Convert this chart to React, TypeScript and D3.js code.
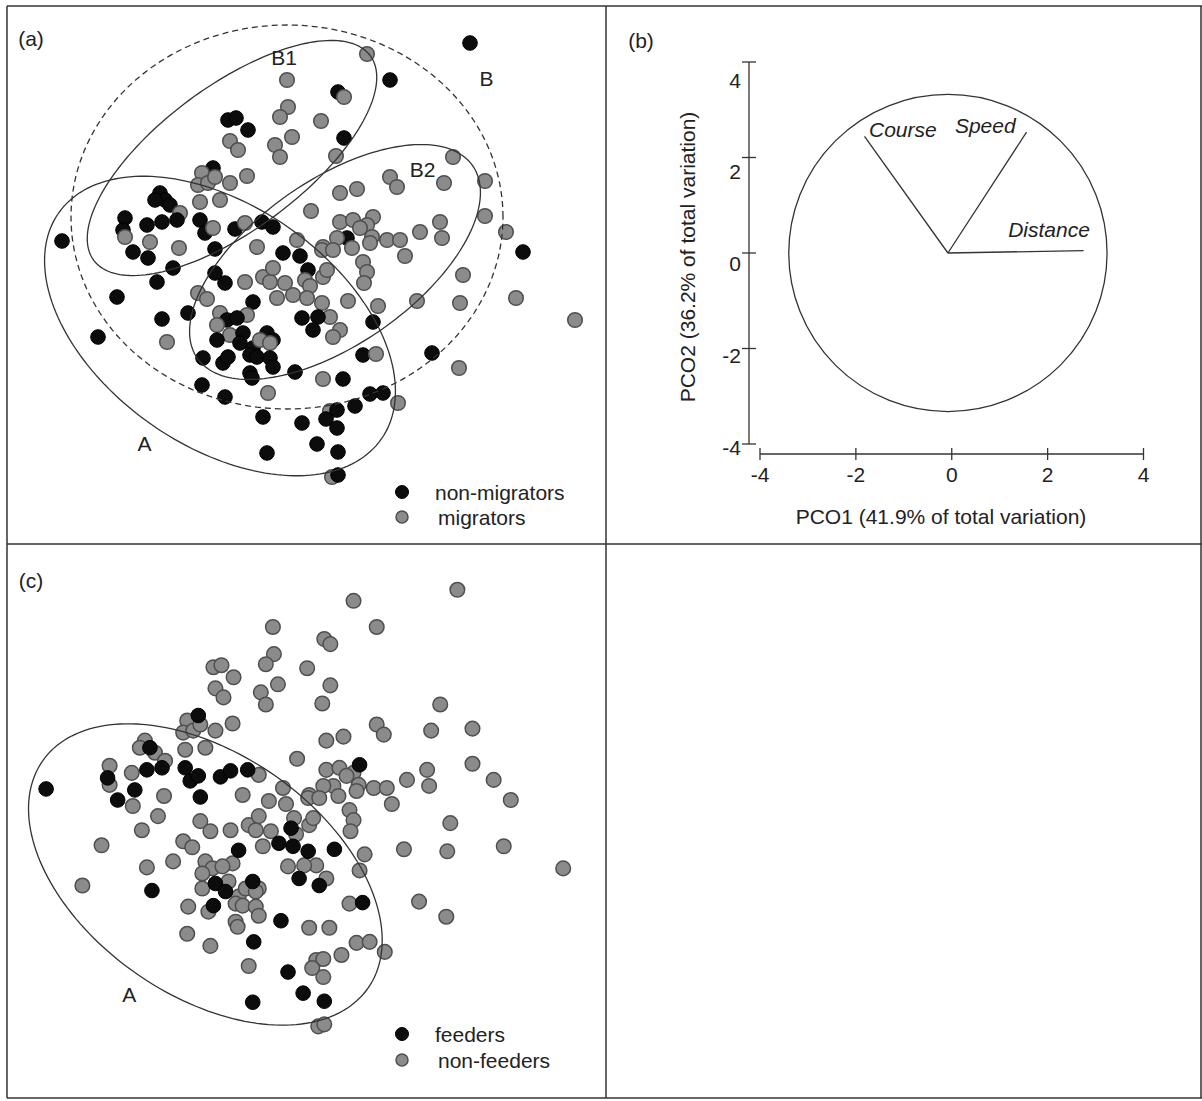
import React from "react";
import * as d3 from "d3";

// Individual birds: [PCO1 score, PCO2 score, migrator (1) / non-migrator (0), feeder (1) / non-feeder (0)]
const birds: [number, number, number, number][] = [
  [3.40,4.14,0,0],[1.34,3.92,1,0],[1.80,3.40,0,0],[0.76,3.16,0,0],[0.88,3.06,1,0],
  [-0.26,3.40,1,0],[-0.24,2.86,1,0],[-0.40,2.66,1,0],[0.42,2.58,1,0],[-0.16,2.26,1,0],
  [-0.50,2.10,1,0],[-0.40,1.86,1,0],[0.88,2.24,0,0],[0.72,1.88,1,0],[-1.44,2.60,0,0],
  [-1.28,2.64,0,0],[-1.04,2.40,0,0],[-1.40,2.18,1,0],[-1.24,2.00,1,0],[-1.06,1.48,1,0],
  [-1.40,1.34,1,0],[-1.74,1.64,0,1],[-1.96,1.54,1,0],[-2.04,1.30,1,0],[-1.84,1.34,1,0],
  [-1.70,1.46,1,0],[-1.60,1.00,1,0],[-2.00,0.96,1,0],[-2.80,1.14,0,0],[-2.70,1.00,0,1],
  [-2.90,1.00,0,0],[-2.60,0.90,0,0],[-2.40,0.74,1,0],[-2.46,0.60,0,1],[-2.76,0.56,0,1],
  [-3.06,0.50,0,0],[-3.50,0.64,0,0],[-3.54,0.40,0,1],[-3.50,0.26,1,0],[-2.00,0.60,0,1],
  [-1.90,0.34,0,1],[-1.74,0.44,1,1],[-1.30,0.42,0,1],[-1.10,0.54,1,1],[-0.76,0.56,0,1],
  [-0.54,0.46,0,0],[-0.86,0.06,1,0],[-3.00,0.16,1,1],[-4.76,0.18,0,1],[-0.06,0.20,1,0],
  [-1.70,0.02,0,1],[-3.34,-0.04,0,1],[-2.42,0.04,1,0],[-0.34,-0.06,0,0],
  [3.06,1.86,1,0],[1.80,1.46,1,0],[1.94,1.26,1,0],[2.88,1.34,1,0],[3.70,1.38,1,0],
  [0.80,1.14,1,0],[1.14,1.22,1,0],[0.22,0.78,1,0],[3.70,0.68,1,0],[2.80,0.56,1,0],
  [2.84,0.24,1,0],[2.40,0.36,1,0],[4.12,0.36,1,0],[0.80,0.56,1,0],[1.06,0.60,1,0],
  [1.46,0.66,1,1],[1.34,0.50,1,0],[1.20,0.44,1,0],[0.94,0.24,0,0],[0.74,0.24,1,0],
  [1.44,0.26,1,0],[1.74,0.20,1,0],[2.00,0.20,1,0],[0.46,0.06,1,0],[4.46,-0.04,0,0],
  [2.10,-0.12,1,0],[3.26,-0.50,1,0],[3.20,-1.06,1,0],[4.32,-0.96,1,0],[5.50,-1.40,1,0],
  [2.64,-2.06,0,0],[3.18,-2.36,1,0],[2.34,-1.02,1,0],[1.56,-1.12,1,0],[0.96,-1.02,1,1],
  [1.46,-1.44,0,0],[1.26,-0.24,1,0],[1.34,-0.44,1,0],[1.28,-0.66,1,0],[0.44,0.00,1,0],
  [0.66,0.00,1,0],[1.04,0.04,1,0],[1.40,0.14,1,0],[0.00,-0.12,0,0],[0.16,-0.40,0,0],
  [0.10,-0.60,1,1],[0.20,-0.72,1,0],[0.46,-0.54,1,0],[0.54,-0.40,1,0],[-0.14,-0.90,1,1],
  [0.14,-0.96,1,1],[0.44,-1.06,1,1],[0.60,-1.34,1,0],[0.80,-1.60,1,0],[0.66,-1.74,1,1],
  [0.04,-1.36,0,0],[0.26,-1.60,0,1],[0.36,-1.34,0,0],[1.26,-2.10,0,0],[1.52,-2.08,1,1],
  [-0.10,-2.44,0,1],[0.46,-2.58,1,0],[0.86,-2.58,0,0],[1.40,-2.88,0,0],[1.66,-2.86,0,0],
  [1.96,-3.06,1,0],[1.10,-3.12,0,0],[0.60,-3.22,1,0],[0.74,-3.20,0,0],[0.52,-3.38,0,0],
  [0.74,-3.56,0,0],[0.04,-3.46,0,1],[0.34,-3.88,0,1],[0.76,-4.04,0,1],[0.64,-4.54,1,0],
  [0.76,-4.50,0,0],
  [-3.04,-0.16,0,0],[-2.54,-0.36,0,0],[-2.86,-0.64,0,0],[-3.66,-0.94,0,0],[-1.70,-0.46,0,0],
  [-1.50,-0.66,0,0],[-1.10,-0.64,1,0],[-0.74,-0.54,1,0],[-0.60,-0.64,1,0],[-0.54,-0.36,1,0],
  [-0.30,-0.66,1,0],[-2.04,-0.86,1,0],[-1.86,-0.98,1,0],[-0.94,-1.04,0,1],[-0.46,-0.96,1,0],
  [-2.24,-1.26,0,0],[-2.76,-1.38,0,0],[-4.04,-1.74,0,0],[-2.66,-1.84,1,1],[-1.60,-1.26,1,0],
  [-1.06,-1.30,1,0],[-1.46,-1.40,0,0],[-1.26,-1.36,0,0],[-1.66,-1.50,1,0],[-1.40,-1.70,1,1],
  [-1.66,-1.80,0,0],[-1.14,-1.66,0,0],[-1.20,-1.86,0,1],[-0.94,-1.96,0,0],[-1.00,-2.10,0,0],
  [-0.66,-1.66,0,1],[-0.54,-1.80,0,0],[-0.80,-1.80,1,0],[-0.60,-1.86,1,0],[-1.94,-2.16,0,0],
  [-1.54,-2.26,0,0],[-1.44,-2.14,0,1],[-0.86,-2.14,0,0],[-0.60,-2.16,0,0],[-0.54,-2.34,0,0],
  [-1.00,-2.46,0,0],[-0.96,-2.56,0,0],[-1.96,-2.70,0,0],[-1.50,-2.94,0,0],[-0.64,-2.86,1,1],
  [-0.74,-3.34,0,0],[-0.66,-4.06,0,1],
];

// Cluster envelopes in PCO space (semi-axes a, b; rotation in degrees)
const clusterNames = ["A", "B1", "B2", "B"];
const clusterCentres: [number, number][] = [[-1.6, -1.52], [-1.36, 1.84], [0.7, -0.24], [-0.26, 0.66]];
const clusterAxes: [number, number][] = [[3.94, 2.4], [3.44, 1.44], [3.36, 1.64], [4.32, 3.84]];
const clusterAngles = [-35, 36.5, 35, 0];
const clusterDashed = [false, false, false, true];

// Vector overlay for panel (b)
const vectorNames = ["Course", "Speed", "Distance"];
const vectorPco1 = [-1.82, 1.56, 2.75];
const vectorPco2 = [2.44, 2.53, 0.05];
const vectorOrigin: [number, number] = [-0.08, 0];
const circleRadius = 3.32;
const axisTicks = [-4, -2, 0, 2, 4];

const FONT = "'Liberation Sans', Arial, Helvetica, sans-serif";
const TXT = "#222";
const LINE = "#333";

type Scale = d3.ScaleLinear<number, number>;

function envelopePath(i: number, xs: Scale, ys: Scale) {
  const [cx, cy] = clusterCentres[i];
  const [a, b] = clusterAxes[i];
  const th = (clusterAngles[i] * Math.PI) / 180;
  const pts = d3.range(0, 360, 2).map((deg) => {
    const t = (deg * Math.PI) / 180;
    const ex = a * Math.cos(t);
    const ey = b * Math.sin(t);
    return [
      xs(cx + ex * Math.cos(th) - ey * Math.sin(th)),
      ys(cy + ex * Math.sin(th) + ey * Math.cos(th)),
    ] as [number, number];
  });
  return d3.line().curve(d3.curveLinearClosed)(pts) as string;
}

function Dot({ x, y, dark, r = 7.3 }: { x: number; y: number; dark: boolean; r?: number }) {
  return dark ? (
    <circle cx={x} cy={y} r={r} fill="#0c0c0c" stroke="#000" strokeWidth={1} />
  ) : (
    <circle cx={x} cy={y} r={r} fill="#8b8b8b" stroke="#4f4f4f" strokeWidth={1.5} />
  );
}

function Label({ x, y, children, anchor = "middle", italic = false, size = 21 }: any) {
  return (
    <text x={x} y={y} textAnchor={anchor} fontFamily={FONT} fontSize={size} fill={TXT}
      fontStyle={italic ? "italic" : "normal"} dominantBaseline="central">
      {children}
    </text>
  );
}

export default function App() {
  // Panel (a)
  const xA = d3.scaleLinear().domain([-6, 6]).range([0, 600]);
  const yA = d3.scaleLinear().domain([-6, 6]).range([550, -50]);
  // Panel (c)
  const xC = d3.scaleLinear().domain([-6, 6]).range([286 - 302.4, 286 + 302.4]);
  const yC = d3.scaleLinear().domain([-6, 6]).range([798 + 301.8, 798 - 301.8]);
  // Panel (b)
  const xB = d3.scaleLinear().domain([-4, 4]).range([760, 1143.5]);
  const yB = d3.scaleLinear().domain([-4, 4]).range([444, 62]);
  const yBLabel = d3.scaleLinear().domain([-4, 4]).range([447, 80]);

  const axisY = 454;
  const axisX = 749;

  const nonFeedersFirst = [...birds].sort((p, q) => p[3] - q[3]);

  return (
    <svg width={1202} height={1101} style={{ position: "absolute", left: 0, top: 0, background: "#fff" }}>
      <rect x={0} y={0} width={1202} height={1101} fill="#fff" />
      {/* frame */}
      <g stroke={LINE} strokeWidth={1.5} fill="none">
        <line x1={7} y1={6} x2={1202} y2={6} />
        <line x1={7} y1={6} x2={7} y2={1098} />
        <line x1={606} y1={6} x2={606} y2={1098} />
        <line x1={7} y1={544} x2={1202} y2={544} />
        <line x1={7} y1={1098} x2={1202} y2={1098} />
        <line x1={1201} y1={6} x2={1201} y2={1098} />
      </g>

      {/* (a) */}
      <Label x={31} y={38}>(a)</Label>
      <g>
        {birds.map((b, i) => (
          <Dot key={i} x={xA(b[0])} y={yA(b[1])} dark={b[2] === 0} />
        ))}
      </g>
      <g fill="none" stroke={LINE} strokeWidth={1.3}>
        {clusterNames.map((n, i) => (
          <path key={n} d={envelopePath(i, xA, yA)} strokeDasharray={clusterDashed[i] ? "6 4" : undefined} />
        ))}
      </g>
      <Label x={xA(-0.32)} y={yA(3.85)}>B1</Label>
      <Label x={xA(3.73)} y={yA(3.43)}>B</Label>
      <Label x={xA(2.45)} y={yA(1.62)}>B2</Label>
      <Label x={xA(-3.11)} y={yA(-3.87)}>A</Label>
      <Dot x={402} y={492} dark r={6.5} />
      <Dot x={402} y={517} dark={false} r={6} />
      <Label x={435} y={492} anchor="start">non-migrators</Label>
      <Label x={438} y={517} anchor="start">migrators</Label>

      {/* (b) */}
      <Label x={641} y={40}>(b)</Label>
      <g stroke={LINE} strokeWidth={1.3} fill="none">
        <line x1={axisX} y1={yB(4)} x2={axisX} y2={yB(-4)} />
        {axisTicks.map((t) => (
          <line key={"yt" + t} x1={axisX - 7} x2={axisX + 7} y1={yB(t)} y2={yB(t)} />
        ))}
        <line x1={xB(-4)} y1={axisY} x2={xB(4)} y2={axisY} />
        {axisTicks.map((t) => (
          <line key={"xt" + t} x1={xB(t)} x2={xB(t)} y1={axisY - 6} y2={axisY + 6} />
        ))}
        <ellipse cx={xB(vectorOrigin[0])} cy={yB(vectorOrigin[1])}
          rx={xB(circleRadius) - xB(0)} ry={yB(0) - yB(circleRadius)} />
        {vectorNames.map((n, i) => (
          <line key={n} x1={xB(vectorOrigin[0])} y1={yB(vectorOrigin[1])}
            x2={xB(vectorPco1[i])} y2={yB(vectorPco2[i])} />
        ))}
      </g>
      {axisTicks.map((t) => (
        <Label key={"yl" + t} x={741} y={yBLabel(t)} anchor="end">{String(t)}</Label>
      ))}
      {axisTicks.map((t) => (
        <Label key={"xl" + t} x={xB(t)} y={474}>{String(t)}</Label>
      ))}
      <Label x={941} y={516}>PCO1 (41.9% of total variation)</Label>
      <g transform="translate(687,257) rotate(-90)">
        <Label x={0} y={0}>PCO2 (36.2% of total variation)</Label>
      </g>
      <Label x={xB(-1.02)} y={yB(2.59)} italic>Course</Label>
      <Label x={xB(0.70)} y={yB(2.66)} italic>Speed</Label>
      <Label x={xB(2.03)} y={yB(0.49)} italic>Distance</Label>

      {/* (c) */}
      <Label x={31} y={580}>(c)</Label>
      <g>
        {nonFeedersFirst.map((b, i) => (
          <Dot key={i} x={xC(b[0])} y={yC(b[1])} dark={b[3] === 1} />
        ))}
      </g>
      <path d={envelopePath(0, xC, yC)} fill="none" stroke={LINE} strokeWidth={1.3} />
      <Label x={xC(-3.11)} y={yC(-3.9)}>A</Label>
      <Dot x={402} y={1034} dark r={6.5} />
      <Dot x={402} y={1060} dark={false} r={6} />
      <Label x={435} y={1034} anchor="start">feeders</Label>
      <Label x={438} y={1060} anchor="start">non-feeders</Label>
    </svg>
  );
}
